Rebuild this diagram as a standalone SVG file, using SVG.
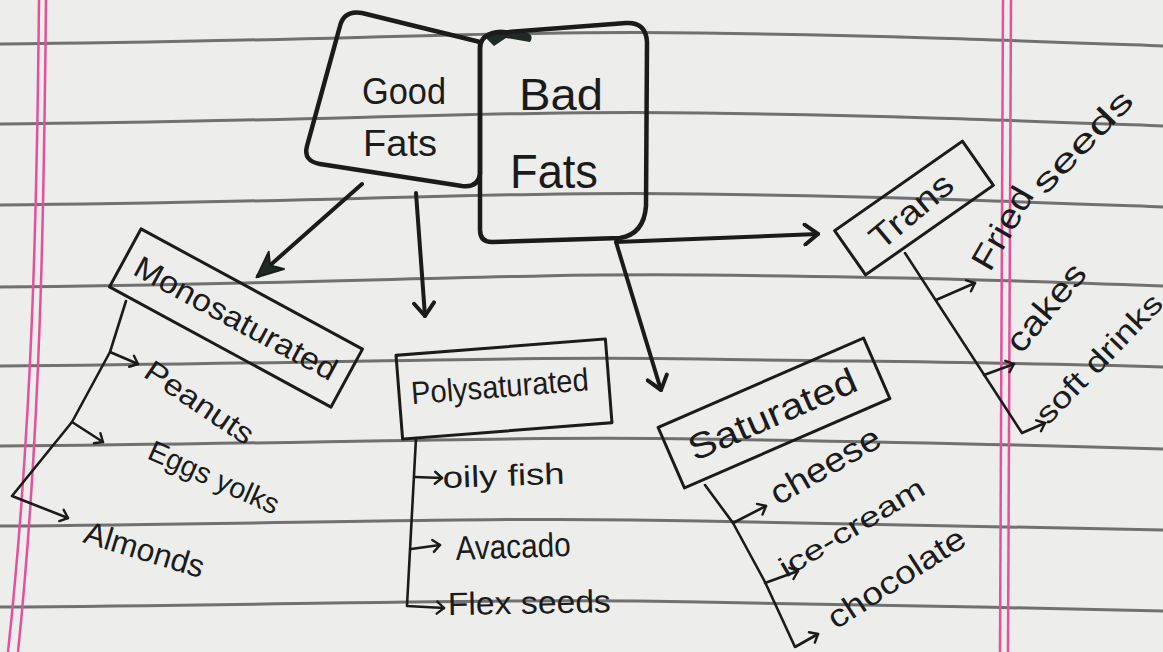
<svg xmlns="http://www.w3.org/2000/svg" width="1163" height="652" viewBox="0 0 1163 652">
<style>
.paper{fill:#ededec}
.rule{fill:none;stroke:#707070;stroke-width:3}
.pink{fill:none;stroke:#e2529c;stroke-width:2.5}
.box{fill:none;stroke:#1b1b1b;stroke-width:3;stroke-linejoin:round}
.bold{fill:none;stroke:#1b1b1b;stroke-width:4.5;stroke-linejoin:round;stroke-linecap:round}
.conn{fill:none;stroke:#1b1b1b;stroke-width:4;stroke-linecap:round}
.branch{fill:none;stroke:#1b1b1b;stroke-width:2.6;stroke-linecap:round;stroke-linejoin:round}
text{font-family:"Liberation Sans","DejaVu Sans",sans-serif;fill:#1b1b1b}
</style>
<defs>
<marker id="vhead" viewBox="-16 -12 20 24" refX="0" refY="0" markerWidth="20" markerHeight="24" markerUnits="userSpaceOnUse" orient="auto">
<path d="M-13,-10 L0,0 L-13,10" fill="none" stroke="#1b1b1b" stroke-width="4" stroke-linecap="round" stroke-linejoin="round"/>
</marker>
<marker id="fhead" viewBox="-26 -14 30 28" refX="0" refY="0" markerWidth="30" markerHeight="28" markerUnits="userSpaceOnUse" orient="auto">
<path d="M2,0 L-24,-12 L-16,0 L-24,11 Z" fill="#1f2a26" stroke="#1b1b1b" stroke-width="2" stroke-linejoin="round"/>
</marker>
<marker id="shead" viewBox="-10 -8 12 16" refX="0" refY="0" markerWidth="12" markerHeight="16" markerUnits="userSpaceOnUse" orient="auto">
<path d="M-7,-6 L0,0 L-7,6" fill="none" stroke="#1b1b1b" stroke-width="2.4" stroke-linecap="round" stroke-linejoin="round"/>
</marker>
</defs>

<rect class="paper" x="0" y="0" width="1163" height="652"/>
<g id="paper-lines">
<path class="rule" d="M0,44 C300,42 500,30 700,33 S1000,40 1163,46"/>
<path class="rule" d="M0,124 C300,122 500,110 700,113 S1000,120 1163,126"/>
<path class="rule" d="M0,205 C300,203 500,191 700,194 S1000,201 1163,207"/>
<path class="rule" d="M0,287 C300,285 500,273 700,275 S1000,280 1163,286"/>
<path class="rule" d="M0,366 C300,364 500,356 700,359 S1000,362 1163,367"/>
<path class="rule" d="M0,446 C300,444 500,436 700,439 S1000,444 1163,449"/>
<path class="rule" d="M0,526 C300,524 500,516 700,521 S1000,526 1163,530"/>
<path class="rule" d="M0,607 C300,605 500,598 700,602 S1000,607 1163,611"/>
<path class="pink" d="M39,0 C37,200 33,420 8,652"/>
<path class="pink" d="M46,0 C44,200 41,430 18,652"/>
<path class="pink" d="M1003,0 L1000,652"/>
<path class="pink" d="M1011,0 L1008,652"/>
</g>

<g id="connectors">
<path class="conn" d="M362,184 L258,276" marker-end="url(#fhead)"/>
<path class="conn" d="M416,193 L425,316" marker-end="url(#vhead)"/>
<path class="conn" d="M616,242 L661,390" marker-end="url(#vhead)"/>
<path class="conn" d="M616,242 L818,234" marker-end="url(#vhead)"/>
<path d="M484,36 Q492,28 506,30 L528,33 Q534,36 530,42 L506,38 L494,46 Z" fill="#1f2a26"/>
<path class="branch" d="M126,301 L110,352 L72,422 L12,496 L68,518" marker-end="url(#shead)"/>
<path class="branch" d="M110,352 L138,364" marker-end="url(#shead)"/>
<path class="branch" d="M72,422 L103,442" marker-end="url(#shead)"/>
<path class="branch" d="M416,438 L407,606 L444,608" marker-end="url(#shead)"/>
<path class="branch" d="M415,477 L442,478" marker-end="url(#shead)"/>
<path class="branch" d="M411,549 L440,545" marker-end="url(#shead)"/>
<path class="branch" d="M705,485 L733,523 L765,582 L795,647 L818,634" marker-end="url(#shead)"/>
<path class="branch" d="M733,523 L766,506" marker-end="url(#shead)"/>
<path class="branch" d="M765,583 L798,571" marker-end="url(#shead)"/>
<path class="branch" d="M905,253 L1022,433 L1045,423" marker-end="url(#shead)"/>
<path class="branch" d="M936,300 L975,283" marker-end="url(#shead)"/>
<path class="branch" d="M984,375 L1014,364" marker-end="url(#shead)"/>
</g>

<g id="good-fats">
<path class="bold" d="M480,42 L362,13 Q344,10 340,26 L307,146 Q303,161 320,164 L462,186 Q478,188 480,174 Z"/>
<text x="404" y="104" font-size="36" text-anchor="middle" textLength="84" lengthAdjust="spacingAndGlyphs">Good</text>
<text x="400" y="156" font-size="36" text-anchor="middle" textLength="74" lengthAdjust="spacingAndGlyphs">Fats</text>
</g>

<g id="bad-fats">
<path class="bold" d="M480,48 Q481,34 496,33 L626,23 Q646,22 647,42 L646,206 Q644,234 620,238 L492,242 Q480,242 480,230 Z"/>
<text x="561" y="110" font-size="44" text-anchor="middle" textLength="84" lengthAdjust="spacingAndGlyphs">Bad</text>
<text x="554" y="188" font-size="48" text-anchor="middle" textLength="88" lengthAdjust="spacingAndGlyphs">Fats</text>
</g>

<g id="monosaturated" transform="translate(236,318) rotate(28.5)">
<rect class="box" x="-126" y="-33" width="252" height="66"/>
<text x="0" y="11" font-size="31" text-anchor="middle" textLength="226" lengthAdjust="spacingAndGlyphs">Monosaturated</text>
</g>

<g id="polysaturated" transform="translate(504,389) rotate(-4.5)">
<rect class="box" x="-105" y="-42" width="210" height="84"/>
<text x="-4" y="8" font-size="32" text-anchor="middle" textLength="178" lengthAdjust="spacingAndGlyphs">Polysaturated</text>
</g>

<g id="saturated" transform="translate(774,413) rotate(-23.5)">
<rect class="box" x="-112" y="-33" width="224" height="66"/>
<text x="-2" y="13" font-size="36" text-anchor="middle" textLength="180" lengthAdjust="spacingAndGlyphs">Saturated</text>
</g>

<g id="trans" transform="translate(914,208) rotate(-35)">
<rect class="box" x="-78" y="-27" width="156" height="54"/>
<text x="-4" y="12" font-size="34" text-anchor="middle" textLength="98" lengthAdjust="spacingAndGlyphs" transform="rotate(-5)">Trans</text>
</g>

<g id="mono-items">
<text transform="translate(142,376) rotate(34)" font-size="30" textLength="125" lengthAdjust="spacingAndGlyphs">Peanuts</text>
<text transform="translate(146,458) rotate(24)" font-size="29" textLength="140" lengthAdjust="spacingAndGlyphs">Eggs yolks</text>
<text transform="translate(82,542) rotate(17)" font-size="32" textLength="124" lengthAdjust="spacingAndGlyphs">Almonds</text>
</g>

<g id="poly-items">
<text transform="translate(443,488) rotate(-2)" font-size="30" textLength="122" lengthAdjust="spacingAndGlyphs">oily fish</text>
<text transform="translate(456,560) rotate(-2)" font-size="34" textLength="115" lengthAdjust="spacingAndGlyphs">Avacado</text>
<text transform="translate(448,615) rotate(-1)" font-size="32" textLength="163" lengthAdjust="spacingAndGlyphs">Flex seeds</text>
</g>

<g id="saturated-items">
<text transform="translate(778,506) rotate(-30)" font-size="34" textLength="122" lengthAdjust="spacingAndGlyphs">cheese</text>
<text transform="translate(786,578) rotate(-31)" font-size="28" textLength="165" lengthAdjust="spacingAndGlyphs">ice-cream</text>
<text transform="translate(836,630) rotate(-33)" font-size="32" textLength="158" lengthAdjust="spacingAndGlyphs">chocolate</text>
</g>

<g id="trans-items">
<text transform="translate(990,273) rotate(-60)" font-size="34" textLength="90" lengthAdjust="spacingAndGlyphs">Fried</text>
<text transform="translate(1045,196) rotate(-46)" font-size="32" textLength="130" lengthAdjust="spacingAndGlyphs">seeds</text>
<text transform="translate(1021,355) rotate(-50)" font-size="34" textLength="105" lengthAdjust="spacingAndGlyphs">cakes</text>
<text transform="translate(1048,426) rotate(-46)" font-size="30" textLength="168" lengthAdjust="spacingAndGlyphs">soft drinks</text>
</g>
</svg>
